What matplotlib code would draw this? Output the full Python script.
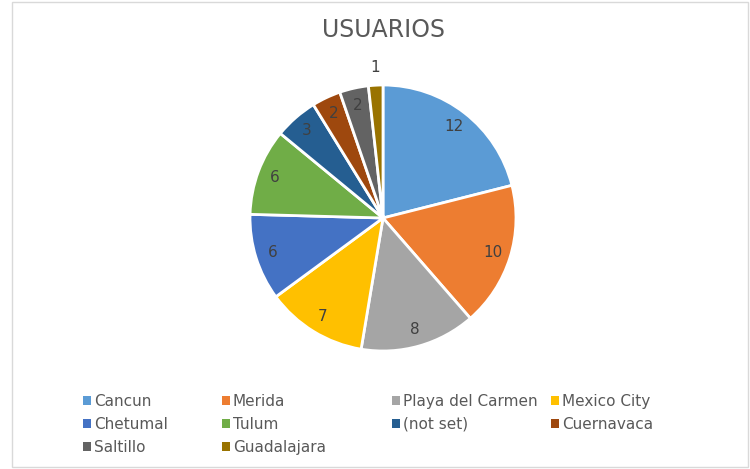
import matplotlib
matplotlib.use("Agg")
import matplotlib.pyplot as plt
from matplotlib.patches import Patch, Rectangle
import numpy as np

# Datos
ciudades = ["Cancun", "Merida", "Playa del Carmen", "Mexico City", "Chetumal",
            "Tulum", "(not set)", "Cuernavaca", "Saltillo", "Guadalajara"]
usuarios = [12, 10, 8, 7, 6, 6, 3, 2, 2, 1]
colores = ["#5B9BD5", "#ED7D31", "#A5A5A5", "#FFC000", "#4472C4",
           "#70AD47", "#255E91", "#9E480E", "#636363", "#997300"]

W, H = 750, 469
fig = plt.figure(figsize=(W / 100, H / 100), dpi=100)

# marco del grafico
fig.patches.append(Rectangle((12 / W, 1 - 467 / H), (748 - 12) / W, (467 - 2) / H,
                             transform=fig.transFigure, fill=False,
                             edgecolor="#D9D9D9", linewidth=1))

cx, cy, r = 383, 218, 133
ax = fig.add_axes([(cx - r) / W, 1 - (cy + r) / H, 2 * r / W, 2 * r / H])

wedges, _ = ax.pie(usuarios, colors=colores, startangle=90, counterclock=False,
                   wedgeprops=dict(edgecolor="white", linewidth=2))
ax.set_xlim(-1, 1)
ax.set_ylim(-1, 1)
ax.set_aspect("equal")
ax.axis("off")

# etiquetas de datos
for w, v in zip(wedges, usuarios):
    ang = np.deg2rad((w.theta1 + w.theta2) / 2)
    dist = 1.13 if v == 1 else 0.87
    ax.text(dist * np.cos(ang), dist * np.sin(ang), str(v), ha="center", va="center",
            fontsize=11, color="#404040")

fig.text(cx / W, 1 - 30 / H, "USUARIOS", ha="center", va="center",
         fontsize=17, color="#595959")

# leyenda en 4 columnas
col_x = [83, 222, 392, 551]
for j, x in enumerate(col_x):
    idx = list(range(j, len(ciudades), 4))
    handles = [Patch(facecolor=colores[i], edgecolor="none", label=ciudades[i]) for i in idx]
    fig.legend(handles=handles, loc="upper left", bbox_to_anchor=(x / W, 1 - 394 / H),
               frameon=False, fontsize=11, borderpad=0, borderaxespad=0,
               handlelength=0.5, handleheight=0.5, handletextpad=0.2,
               labelspacing=0.52, labelcolor="#595959")

fig.savefig("out.png", dpi=100)
